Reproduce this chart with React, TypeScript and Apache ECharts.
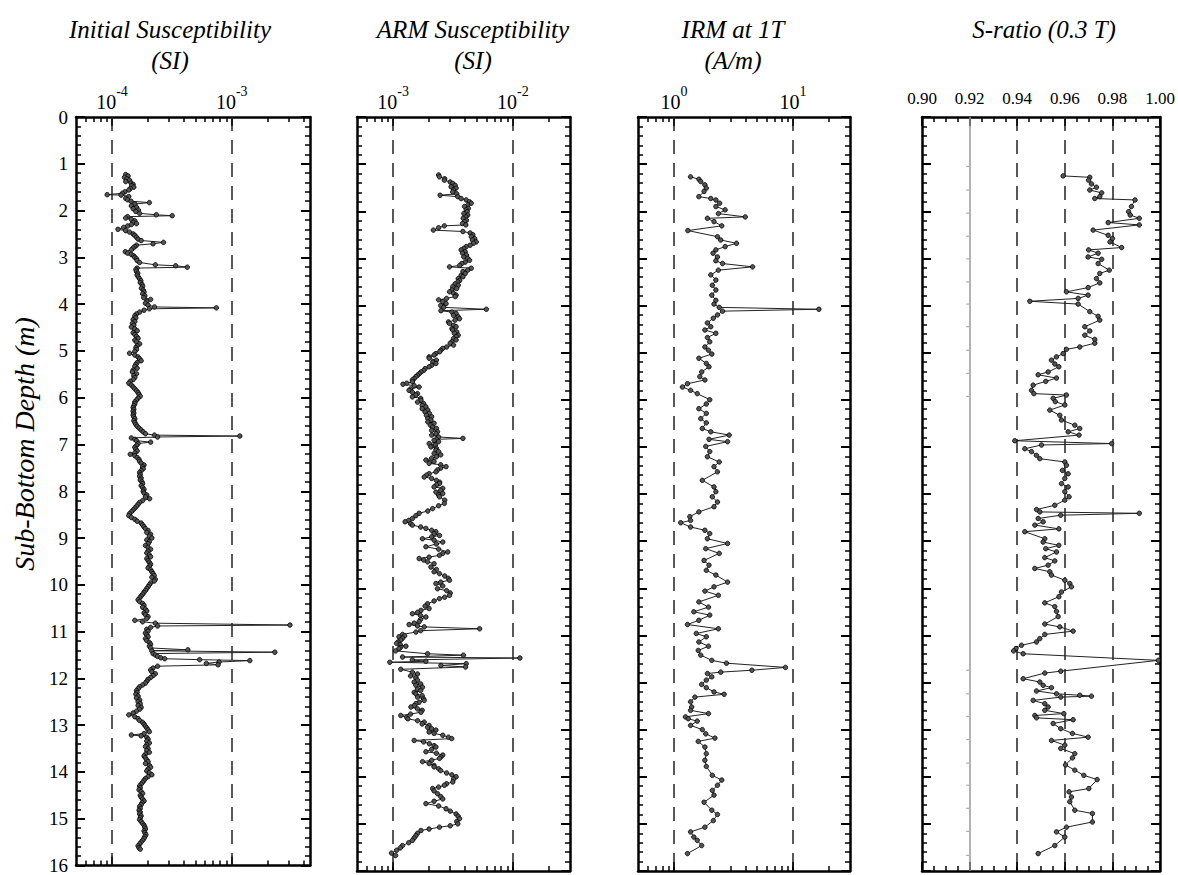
import React, { useEffect, useRef } from "react";
import * as echarts from "echarts";

// ---------- DATA (depth in m, value) ----------
// Initial susceptibility, values in units of 1e-4 SI
const INITIAL_UNIT = 1e-4;
const initialSusceptibility: number[][] = [
  [1.23,1.30],[1.26,1.36],[1.29,1.27],[1.32,1.33],[1.35,1.40],[1.38,1.30],[1.41,1.44],[1.44,1.50],[1.47,1.46],[1.50,1.52],
  [1.53,1.42],[1.56,1.38],[1.60,1.28],[1.63,1.22],[1.66,0.91],[1.67,1.19],[1.70,1.38],[1.74,1.30],[1.77,1.35],[1.80,1.44],
  [1.83,2.05],[1.86,1.55],[1.90,1.45],[1.93,1.60],[1.96,1.50],[1.99,1.66],[2.02,1.58],[2.06,1.70],[2.09,2.34],[2.11,3.18],
  [2.13,1.35],[2.16,1.30],[2.19,1.45],[2.22,1.55],[2.25,1.50],[2.28,1.60],[2.30,1.45],[2.33,1.35],[2.36,1.25],[2.40,1.12],
  [2.43,1.30],[2.46,1.40],[2.50,1.50],[2.53,1.55],[2.57,1.60],[2.61,1.65],[2.64,1.75],[2.68,2.69],[2.71,2.20],[2.74,1.60],
  [2.77,1.55],[2.80,1.50],[2.84,1.45],[2.88,1.29],[2.91,1.35],[2.94,1.45],[2.97,1.52],[3.00,1.55],[3.03,1.60],[3.07,1.62],
  [3.11,1.70],[3.16,2.30],[3.18,3.40],[3.21,4.25],[3.23,1.62],[3.26,1.58],[3.30,1.60],[3.34,1.64],[3.38,1.62],[3.42,1.66],
  [3.46,1.70],[3.50,1.74],[3.54,1.72],[3.58,1.78],[3.62,1.80],[3.66,1.76],[3.70,1.82],[3.74,1.85],[3.78,1.80],[3.82,1.88],
  [3.86,1.84],[3.90,2.10],[3.94,1.95],[3.98,1.90],[4.02,2.00],[4.06,2.26],[4.08,7.44],[4.10,2.05],[4.13,1.85],[4.17,1.70],
  [4.21,1.60],[4.25,1.55],[4.29,1.58],[4.33,1.50],[4.37,1.55],[4.41,1.48],[4.45,1.52],[4.49,1.45],[4.53,1.55],[4.57,1.62],
  [4.61,1.50],[4.65,1.55],[4.69,1.60],[4.73,1.65],[4.77,1.55],[4.81,1.60],[4.85,1.70],[4.89,1.62],[4.93,1.58],[4.97,1.60],
  [5.01,1.55],[5.05,1.40],[5.09,1.55],[5.13,1.65],[5.17,1.70],[5.21,1.75],[5.25,1.62],[5.29,1.58],[5.33,1.55],[5.37,1.62],
  [5.41,1.50],[5.45,1.48],[5.49,1.60],[5.53,1.52],[5.57,1.55],[5.61,1.50],[5.65,1.42],[5.69,1.38],[5.73,1.45],[5.77,1.50],
  [5.81,1.55],[5.85,1.60],[5.89,1.65],[5.93,1.68],[5.97,1.72],[6.01,1.65],[6.05,1.60],[6.09,1.55],[6.13,1.55],[6.17,1.52],
  [6.21,1.50],[6.25,1.52],[6.29,1.50],[6.33,1.52],[6.37,1.50],[6.41,1.52],[6.45,1.55],[6.49,1.52],[6.53,1.55],[6.57,1.58],
  [6.61,1.62],[6.65,1.68],[6.69,1.75],[6.73,1.82],[6.77,1.90],[6.80,2.26],[6.82,11.67],[6.84,2.40],[6.86,1.45],[6.89,1.55],
  [6.92,1.60],[6.95,2.10],[6.98,1.65],[7.02,1.60],[7.06,1.55],[7.10,1.58],[7.14,1.62],[7.18,1.55],[7.21,1.42],[7.24,1.55],
  [7.28,1.62],[7.32,1.68],[7.36,1.70],[7.40,1.75],[7.44,1.85],[7.48,1.80],[7.52,1.82],[7.56,1.75],[7.60,1.70],[7.64,1.72],
  [7.68,1.70],[7.72,1.75],[7.76,1.72],[7.80,1.78],[7.84,1.80],[7.88,1.75],[7.92,1.80],[7.96,1.85],[8.00,1.82],[8.04,1.85],
  [8.08,1.95],[8.12,1.90],[8.16,2.06],[8.20,1.80],[8.24,1.70],[8.28,1.65],[8.32,1.60],[8.36,1.55],[8.40,1.50],[8.44,1.45],
  [8.48,1.40],[8.52,1.38],[8.56,1.45],[8.60,1.55],[8.64,1.62],[8.68,1.75],[8.72,1.80],[8.76,1.85],[8.80,1.90],[8.84,2.00],
  [8.88,1.95],[8.92,2.10],[8.96,2.05],[9.00,2.15],[9.04,1.95],[9.08,2.05],[9.12,2.00],[9.16,1.90],[9.20,2.00],[9.24,2.10],
  [9.28,2.00],[9.32,1.95],[9.36,2.05],[9.40,2.10],[9.44,1.95],[9.48,2.00],[9.52,2.05],[9.56,2.10],[9.60,2.05],[9.64,2.00],
  [9.68,2.10],[9.72,2.15],[9.76,2.20],[9.80,2.25],[9.84,2.15],[9.88,2.30],[9.92,2.25],[9.96,2.10],[10.00,2.05],[10.04,2.00],
  [10.08,1.95],[10.12,1.90],[10.16,1.85],[10.20,1.80],[10.24,1.75],[10.28,1.70],[10.32,1.65],[10.36,1.70],[10.40,1.80],[10.44,1.85],
  [10.48,1.80],[10.52,1.90],[10.56,1.95],[10.60,1.85],[10.64,1.90],[10.68,2.00],[10.72,1.95],[10.76,1.55],[10.79,1.80],[10.82,2.30],
  [10.86,30.6],[10.88,2.40],[10.91,2.10],[10.95,1.95],[10.99,2.00],[11.03,1.90],[11.07,1.95],[11.11,2.00],[11.15,1.90],[11.19,1.95],
  [11.23,2.05],[11.27,2.10],[11.31,2.05],[11.35,2.10],[11.39,4.30],[11.41,2.15],[11.44,22.9],[11.47,2.20],[11.50,2.30],[11.53,2.40],
  [11.56,2.55],[11.58,2.75],[11.60,5.39],[11.62,14.15],[11.65,7.83],[11.68,6.13],[11.71,7.68],[11.74,2.40],[11.78,2.20],[11.82,2.10],
  [11.86,2.15],[11.90,2.30],[11.94,2.20],[11.98,2.10],[12.02,2.00],[12.06,1.95],[12.10,1.90],[12.14,1.80],[12.18,1.70],[12.22,1.65],
  [12.26,1.60],[12.30,1.62],[12.34,1.58],[12.38,1.65],[12.42,1.60],[12.46,1.70],[12.50,1.65],[12.54,1.72],[12.58,1.65],[12.62,1.75],
  [12.66,1.70],[12.70,1.60],[12.74,1.50],[12.78,1.38],[12.82,1.55],[12.86,1.65],[12.90,1.70],[12.94,1.80],[12.98,1.85],[13.02,1.90],
  [13.06,1.95],[13.10,2.00],[13.14,2.05],[13.18,1.85],[13.21,1.45],[13.23,1.75],[13.26,1.95],[13.30,2.00],[13.34,1.95],[13.38,2.05],
  [13.42,1.95],[13.46,1.90],[13.50,2.00],[13.54,1.95],[13.58,2.05],[13.62,1.90],[13.66,1.85],[13.70,1.90],[13.74,1.95],[13.78,2.00],
  [13.82,1.90],[13.86,2.05],[13.90,2.10],[13.94,2.00],[13.98,1.95],[14.02,2.05],[14.06,2.15],[14.10,2.00],[14.14,1.90],[14.18,1.85],
  [14.22,1.80],[14.26,1.75],[14.30,1.70],[14.34,1.72],[14.38,1.68],[14.42,1.75],[14.46,1.80],[14.50,1.72],[14.54,1.75],[14.58,1.80],
  [14.62,1.85],[14.66,1.78],[14.70,1.75],[14.74,1.70],[14.78,1.72],[14.82,1.68],[14.86,1.72],[14.90,1.70],[14.94,1.75],[14.98,1.72],
  [15.02,1.70],[15.06,1.75],[15.10,1.80],[15.14,1.85],[15.18,1.88],[15.22,1.90],[15.26,1.85],[15.30,1.88],[15.34,1.92],[15.38,1.88],
  [15.42,1.85],[15.46,1.80],[15.50,1.75],[15.54,1.70],[15.58,1.65],[15.62,1.68],[15.65,1.72]
];

// ARM susceptibility, values in units of 1e-3 SI
const ARM_UNIT = 1e-3;
const armSusceptibility: number[][] = [
  [1.23,2.40],[1.27,2.44],[1.31,2.70],[1.34,2.68],[1.38,3.00],[1.41,3.15],[1.45,3.30],[1.48,3.05],[1.51,3.36],[1.55,3.20],
  [1.59,3.15],[1.63,3.40],[1.66,2.47],[1.69,3.47],[1.73,3.70],[1.76,4.08],[1.80,4.35],[1.83,4.49],[1.87,4.20],[1.90,3.95],
  [1.94,4.25],[1.97,4.08],[2.01,4.15],[2.05,3.90],[2.08,4.20],[2.12,4.05],[2.15,3.85],[2.19,4.10],[2.22,3.95],[2.26,3.80],
  [2.29,4.05],[2.31,2.68],[2.35,2.40],[2.40,2.17],[2.43,3.83],[2.46,4.40],[2.50,4.64],[2.54,4.50],[2.58,4.80],[2.61,4.60],
  [2.65,4.95],[2.68,4.70],[2.72,4.40],[2.75,4.08],[2.79,3.90],[2.82,3.70],[2.86,4.00],[2.89,3.80],[2.93,4.10],[2.97,3.90],
  [3.00,4.20],[3.04,4.35],[3.08,4.00],[3.11,3.75],[3.15,3.60],[3.18,2.96],[3.21,4.49],[3.25,4.20],[3.28,3.83],[3.32,4.00],
  [3.36,3.70],[3.39,3.83],[3.43,3.50],[3.47,3.60],[3.50,3.47],[3.54,3.30],[3.57,3.50],[3.60,3.15],[3.64,3.40],[3.67,3.10],
  [3.71,2.96],[3.74,3.20],[3.78,3.36],[3.81,3.30],[3.85,2.80],[3.88,2.40],[3.92,2.60],[3.96,2.77],[4.00,2.50],[4.04,2.65],
  [4.08,6.01],[4.11,2.51],[4.14,3.10],[4.17,3.36],[4.21,3.20],[4.24,3.50],[4.28,3.59],[4.31,3.30],[4.35,2.90],[4.38,2.96],
  [4.42,3.20],[4.45,3.36],[4.49,3.10],[4.52,3.15],[4.56,3.40],[4.59,3.25],[4.63,3.50],[4.66,3.36],[4.70,3.20],[4.73,3.36],
  [4.77,3.10],[4.80,3.00],[4.84,3.20],[4.88,2.80],[4.91,2.60],[4.95,2.50],[4.98,2.45],[5.02,2.28],[5.05,2.20],[5.09,2.00],
  [5.12,2.00],[5.16,2.30],[5.20,2.15],[5.23,2.28],[5.27,2.10],[5.30,2.00],[5.34,1.85],[5.38,1.80],[5.41,1.71],[5.45,1.65],
  [5.48,1.60],[5.51,1.55],[5.55,1.50],[5.58,1.45],[5.62,1.45],[5.65,1.30],[5.67,1.21],[5.70,1.50],[5.73,1.65],[5.77,1.40],
  [5.80,1.36],[5.84,1.45],[5.87,1.60],[5.90,1.55],[5.94,1.45],[5.97,1.70],[6.01,1.71],[6.05,1.60],[6.08,1.80],[6.12,1.75],
  [6.15,1.88],[6.19,1.75],[6.22,1.95],[6.26,1.85],[6.29,2.01],[6.33,1.90],[6.36,2.10],[6.40,1.95],[6.43,2.07],[6.47,1.95],
  [6.50,2.20],[6.54,2.05],[6.58,2.14],[6.61,2.30],[6.65,2.10],[6.68,2.35],[6.72,2.28],[6.75,2.10],[6.79,2.40],[6.82,3.83],
  [6.84,2.30],[6.86,2.20],[6.89,2.40],[6.93,2.00],[6.96,2.25],[7.00,2.07],[7.03,2.30],[7.07,2.28],[7.10,2.40],[7.14,2.20],
  [7.17,2.50],[7.21,2.30],[7.24,2.10],[7.28,1.88],[7.31,2.20],[7.35,2.00],[7.38,2.50],[7.42,2.77],[7.45,2.50],[7.49,2.35],
  [7.53,2.28],[7.57,2.00],[7.60,1.90],[7.64,1.82],[7.67,2.10],[7.71,2.30],[7.75,2.45],[7.78,2.44],[7.81,2.30],[7.85,2.20],
  [7.88,2.60],[7.92,2.50],[7.96,2.28],[7.99,2.60],[8.02,2.40],[8.06,2.44],[8.13,2.70],[8.20,2.68],[8.25,2.40],[8.31,2.14],
  [8.36,1.95],[8.41,1.65],[8.46,1.55],[8.52,1.45],[8.56,1.35],[8.59,1.26],[8.63,1.40],[8.66,1.45],[8.70,1.70],[8.73,1.88],
  [8.77,2.10],[8.80,2.28],[8.84,2.20],[8.88,2.44],[8.91,2.10],[8.95,1.76],[8.98,2.20],[9.02,2.60],[9.06,2.30],[9.12,1.88],
  [9.17,2.40],[9.23,2.86],[9.26,2.60],[9.30,2.44],[9.34,2.00],[9.37,1.65],[9.40,1.80],[9.44,1.94],[9.48,2.20],[9.55,2.07],
  [9.60,2.30],[9.65,2.20],[9.69,2.44],[9.74,2.70],[9.79,2.90],[9.83,2.96],[9.87,2.50],[9.90,2.28],[9.95,2.60],[10.01,2.35],
  [10.05,2.80],[10.10,3.00],[10.15,2.96],[10.19,2.70],[10.22,2.44],[10.27,2.20],[10.33,1.94],[10.38,1.85],[10.43,2.00],[10.47,1.71],
  [10.51,1.60],[10.54,1.45],[10.58,1.70],[10.61,1.88],[10.66,1.70],[10.71,1.65],[10.74,1.50],[10.77,1.36],[10.80,1.60],[10.82,1.82],
  [10.86,5.28],[10.90,1.70],[10.93,1.55],[10.98,1.20],[11.01,1.25],[11.03,1.12],[11.06,1.20],[11.10,1.16],[11.14,1.10],[11.17,1.07],
  [11.20,1.15],[11.23,1.28],[11.26,1.15],[11.28,1.12],[11.33,1.05],[11.39,1.94],[11.42,3.87],[11.46,1.20],[11.48,11.45],[11.52,1.45],
  [11.55,1.88],[11.57,0.94],[11.60,4.08],[11.64,2.51],[11.67,4.03],[11.72,1.16],[11.78,1.45],[11.82,1.60],[11.86,1.40],[11.90,1.55],
  [11.95,1.60],[11.99,1.50],[12.03,1.70],[12.06,1.55],[12.10,1.76],[12.14,1.60],[12.17,1.70],[12.21,1.50],[12.24,1.55],[12.28,1.75],
  [12.31,1.60],[12.35,1.80],[12.38,1.82],[12.42,1.65],[12.45,1.55],[12.49,1.50],[12.52,1.41],[12.56,1.60],[12.59,1.75],[12.63,1.71],
  [12.67,1.40],[12.70,1.16],[12.74,1.30],[12.77,1.33],[12.81,1.60],[12.84,1.82],[12.88,1.75],[12.91,2.00],[12.95,1.94],[12.98,2.10],
  [13.01,2.28],[13.05,2.00],[13.08,2.20],[13.12,2.60],[13.16,2.90],[13.19,3.09],[13.23,1.50],[13.26,1.80],[13.30,2.01],[13.34,2.20],
  [13.37,2.28],[13.42,2.10],[13.47,1.88],[13.50,2.30],[13.54,2.60],[13.58,2.50],[13.61,2.44],[13.65,2.10],[13.68,1.76],[13.72,2.00],
  [13.76,2.20],[13.79,2.20],[13.83,2.40],[13.87,2.50],[13.92,2.80],[13.96,3.10],[14.00,3.36],[14.05,3.20],[14.11,3.15],[14.15,2.80],
  [14.18,2.68],[14.22,2.40],[14.25,2.14],[14.30,2.20],[14.36,2.35],[14.42,2.50],[14.47,2.60],[14.52,2.20],[14.57,1.88],[14.62,2.40],
  [14.68,2.77],[14.73,3.00],[14.79,3.36],[14.84,3.50],[14.89,3.59],[14.95,3.40],[15.00,3.47],[15.04,3.00],[15.07,2.44],[15.11,2.00],
  [15.14,1.71],[15.20,1.60],[15.25,1.55],[15.30,1.50],[15.35,1.45],[15.40,1.35],[15.46,1.20],[15.51,1.15],[15.56,1.07],[15.62,0.97],
  [15.67,1.05]
];

// IRM at 1 T, A/m
const irm1T: number[][] = [
  [1.27,1.38],[1.32,1.62],[1.37,1.68],[1.44,1.82],[1.51,1.87],[1.58,1.79],[1.69,1.62],[1.73,2.04],[1.76,2.25],[1.83,2.42],
  [1.90,2.25],[1.97,2.69],[2.05,2.36],[2.12,3.97],[2.15,1.91],[2.22,2.17],[2.31,2.52],[2.41,1.31],[2.54,2.32],[2.61,2.47],
  [2.68,3.35],[2.75,2.69],[2.82,2.25],[2.89,2.13],[2.97,2.32],[3.05,2.25],[3.11,2.56],[3.18,4.57],[3.25,2.36],[3.35,2.04],
  [3.46,2.25],[3.57,2.10],[3.67,2.25],[3.78,2.08],[3.89,2.25],[3.97,2.17],[4.04,2.40],[4.08,16.46],[4.12,2.56],[4.20,2.32],
  [4.27,2.14],[4.37,1.91],[4.45,2.04],[4.52,1.82],[4.59,2.25],[4.68,1.91],[4.77,2.00],[4.88,1.82],[4.95,1.95],[5.03,2.08],
  [5.12,1.62],[5.23,1.87],[5.30,1.97],[5.41,1.71],[5.51,1.65],[5.58,1.82],[5.66,1.30],[5.73,1.18],[5.80,1.38],[5.87,1.57],
  [6.00,2.00],[6.09,1.87],[6.19,1.62],[6.29,1.87],[6.40,1.68],[6.49,1.87],[6.61,1.73],[6.68,2.04],[6.75,2.91],[6.84,1.97],
  [6.89,2.82],[6.99,1.85],[7.10,2.00],[7.21,1.91],[7.32,2.40],[7.42,2.17],[7.53,2.32],[7.71,1.73],[7.85,2.17],[7.95,2.25],
  [8.06,2.10],[8.17,2.32],[8.27,2.17],[8.38,1.62],[8.48,1.36],[8.56,1.38],[8.61,1.14],[8.70,1.38],[8.77,1.82],[8.84,2.00],
  [8.95,1.91],[9.05,2.82],[9.16,1.85],[9.26,2.40],[9.41,1.79],[9.51,1.97],[9.62,1.87],[9.72,2.25],[9.87,2.82],[9.97,2.17],
  [10.06,1.82],[10.15,2.36],[10.29,1.62],[10.40,1.95],[10.50,1.47],[10.57,2.00],[10.68,1.62],[10.77,1.30],[10.86,2.36],[10.96,1.54],
  [11.03,1.87],[11.14,1.62],[11.23,1.95],[11.32,1.60],[11.42,1.68],[11.53,2.08],[11.59,2.76],[11.68,8.62],[11.74,4.51],[11.78,2.47],
  [11.81,1.91],[11.88,2.08],[11.95,1.87],[12.04,1.71],[12.11,1.87],[12.20,2.17],[12.25,2.64],[12.31,1.50],[12.41,1.38],[12.52,1.41],
  [12.59,1.38],[12.66,1.95],[12.73,1.25],[12.77,1.32],[12.82,1.57],[12.91,1.38],[13.00,1.73],[13.09,1.85],[13.18,2.21],[13.25,1.60],
  [13.37,1.82],[13.51,1.87],[13.65,1.82],[13.78,1.87],[13.97,2.10],[14.07,2.52],[14.18,2.32],[14.29,2.10],[14.39,2.17],[14.54,1.79],
  [14.71,2.08],[14.80,2.32],[14.93,2.14],[15.07,1.82],[15.17,1.38],[15.28,1.47],[15.35,1.57],[15.46,1.71],[15.63,1.30]
];

// S-ratio (0.3 T)
const sRatio: number[][] = [
  [1.25,0.9593],[1.28,0.9705],[1.34,0.9700],[1.42,0.9712],[1.49,0.9733],[1.55,0.9705],[1.61,0.9755],[1.69,0.9747],[1.73,0.9726],[1.76,0.9895],
  [1.90,0.9880],[2.01,0.9868],[2.08,0.9875],[2.15,0.9913],[2.24,0.9782],[2.29,0.9913],[2.40,0.9719],[2.51,0.9782],[2.58,0.9800],[2.65,0.9790],
  [2.77,0.9839],[2.82,0.9700],[2.89,0.9740],[2.97,0.9698],[3.02,0.9755],[3.11,0.9740],[3.25,0.9787],[3.32,0.9747],[3.43,0.9733],[3.52,0.9747],
  [3.62,0.9698],[3.71,0.9607],[3.78,0.9698],[3.85,0.9656],[3.91,0.9453],[3.97,0.9656],[4.13,0.9705],[4.23,0.9740],[4.31,0.9747],[4.45,0.9684],
  [4.54,0.9705],[4.63,0.9684],[4.72,0.9726],[4.80,0.9726],[4.88,0.9663],[4.93,0.9607],[5.02,0.9593],[5.09,0.9565],[5.16,0.9544],[5.24,0.9558],
  [5.30,0.9575],[5.41,0.9530],[5.47,0.9488],[5.54,0.9565],[5.61,0.9520],[5.69,0.9467],[5.80,0.9460],[5.87,0.9470],[5.90,0.9607],[5.97,0.9551],
  [6.04,0.9560],[6.11,0.9600],[6.22,0.9537],[6.33,0.9579],[6.43,0.9586],[6.54,0.9642],[6.61,0.9663],[6.68,0.9614],[6.75,0.9660],[6.87,0.9390],
  [6.93,0.9797],[6.96,0.9502],[7.04,0.9432],[7.10,0.9460],[7.18,0.9481],[7.25,0.9495],[7.32,0.9600],[7.39,0.9607],[7.50,0.9590],[7.57,0.9614],
  [7.67,0.9600],[7.78,0.9586],[7.85,0.9614],[7.95,0.9600],[8.06,0.9618],[8.13,0.9600],[8.24,0.9558],[8.33,0.9481],[8.38,0.9495],[8.41,0.9913],
  [8.45,0.9583],[8.52,0.9488],[8.59,0.9509],[8.66,0.9474],[8.74,0.9575],[8.80,0.9432],[8.95,0.9516],[9.02,0.9509],[9.09,0.9575],[9.16,0.9520],
  [9.23,0.9565],[9.35,0.9516],[9.42,0.9558],[9.51,0.9530],[9.58,0.9474],[9.65,0.9537],[9.72,0.9544],[9.83,0.9600],[9.90,0.9621],[9.97,0.9628],
  [10.08,0.9586],[10.18,0.9575],[10.31,0.9516],[10.39,0.9558],[10.49,0.9565],[10.60,0.9572],[10.76,0.9516],[10.82,0.9579],[10.91,0.9635],[10.98,0.9516],
  [11.07,0.9495],[11.14,0.9481],[11.21,0.9418],[11.28,0.9395],[11.33,0.9385],[11.39,0.9425],[11.53,0.9993],[11.76,0.9583],[11.80,0.9516],[11.92,0.9425],
  [11.99,0.9495],[12.06,0.9509],[12.11,0.9544],[12.18,0.9481],[12.24,0.9565],[12.27,0.9663],[12.29,0.9712],[12.31,0.9583],[12.38,0.9467],[12.45,0.9516],
  [12.52,0.9530],[12.59,0.9516],[12.66,0.9596],[12.70,0.9474],[12.75,0.9481],[12.79,0.9635],[12.87,0.9551],[12.98,0.9583],[13.08,0.9632],[13.16,0.9698],
  [13.23,0.9544],[13.33,0.9600],[13.40,0.9583],[13.51,0.9642],[13.60,0.9632],[13.75,0.9603],[13.86,0.9642],[13.97,0.9680],[14.06,0.9736],[14.25,0.9701],
  [14.32,0.9618],[14.43,0.9628],[14.53,0.9621],[14.71,0.9642],[14.78,0.9716],[14.96,0.9716],[15.07,0.9607],[15.17,0.9565],[15.28,0.9600],[15.46,0.9558],
  [15.63,0.9488]
];

// depths of the short marks on the grey 0.92 line
const referenceMarkDepths = [1.05, 1.55, 2.04, 2.53, 3.01, 3.5, 3.97, 4.45, 4.95, 5.44, 5.93,
  11.74, 12.24, 12.72, 13.21, 13.71, 14.18, 14.67, 15.16, 15.67];

const depthTicks = { min: 0, max: 16, interval: 1 };
const sRatioTicks = { min: 0.9, max: 1.0, interval: 0.02 };
const depthAxisTitle = "Sub-Bottom Depth (m)";

// ---------- LAYOUT ----------
const FONT = "Liberation Serif";
const GRID_TOP = 117;
const GRID_BOTTOM = 4;

type Panel = {
  left: number;
  width: number;
  kind: "log" | "linear";
  min: number;
  max: number;
  data: number[][]; // [value, depth]
  title: string;
  titleX: number;
  dashed: number[];
  solid?: number[];
};

const panels: Panel[] = [
  {
    left: 76, width: 234, kind: "log", min: 5e-5, max: 4.5e-3,
    data: initialSusceptibility.map(([d, v]) => [v * INITIAL_UNIT, d]),
    title: "Initial Susceptibility\n(SI)", titleX: 170, dashed: [1e-4, 1e-3],
  },
  {
    left: 357, width: 213, kind: "log", min: 5e-4, max: 3e-2,
    data: armSusceptibility.map(([d, v]) => [v * ARM_UNIT, d]),
    title: "ARM Susceptibility\n(SI)", titleX: 473, dashed: [1e-3, 1e-2],
  },
  {
    left: 638, width: 212, kind: "log", min: 0.5, max: 30,
    data: irm1T.map(([d, v]) => [v, d]),
    title: "IRM at 1T\n(A/m)", titleX: 733, dashed: [1, 10],
  },
  {
    left: 922, width: 238, kind: "linear", min: sRatioTicks.min, max: sRatioTicks.max,
    data: sRatio.map(([d, v]) => [v, d]),
    title: "S-ratio (0.3 T)", titleX: 1044, dashed: [0.94, 0.96, 0.98], solid: [0.92],
  },
];

const AXIS_COLOR = "#000";
const MAJOR_LEN = 9;
const MINOR_LEN = 5;

function logTicks(min: number, max: number) {
  const lmin = Math.log10(min);
  const lmax = Math.log10(max);
  const majors: number[] = [];
  const minors: number[] = [];
  for (let e = Math.floor(lmin); e <= Math.ceil(lmax); e++) {
    if (e >= lmin - 1e-9 && e <= lmax + 1e-9) majors.push(e);
    for (let k = 2; k <= 9; k++) {
      const v = e + Math.log10(k);
      if (v > lmin + 1e-6 && v < lmax - 1e-6) minors.push(v);
    }
  }
  return { lmin, lmax, majors, minors };
}

function buildOption() {
  const grid: any[] = [];
  const xAxis: any[] = [];
  const yAxis: any[] = [];
  const series: any[] = [];
  const graphic: any[] = [];

  panels.forEach((p, i) => {
    grid.push({ left: p.left, width: p.width, top: GRID_TOP, bottom: GRID_BOTTOM, containLabel: false });

    const yBase = {
      type: "value",
      gridIndex: i,
      inverse: true,
      min: depthTicks.min,
      max: depthTicks.max,
      interval: depthTicks.interval,
      axisLine: { show: true, onZero: false, lineStyle: { color: AXIS_COLOR, width: 2.5 } },
      axisTick: { show: true, inside: true, length: MAJOR_LEN, lineStyle: { color: AXIS_COLOR, width: 2 } },
      minorTick: { show: true, splitNumber: 5, length: MINOR_LEN, lineStyle: { color: AXIS_COLOR, width: 1.5 } },
      splitLine: { show: false },
      minorSplitLine: { show: false },
    };
    const yLeftIndex = yAxis.length;
    yAxis.push({
      ...yBase,
      position: "left",
      axisLabel: { show: i === 0, fontFamily: FONT, fontSize: 19, color: "#000", margin: 8 },
    });
    yAxis.push({ ...yBase, position: "right", axisLabel: { show: false } });

    const dataAxisIndex = xAxis.length;
    xAxis.push({
      type: p.kind === "log" ? "log" : "value",
      gridIndex: i,
      min: p.min,
      max: p.max,
      show: false,
      splitLine: { show: false },
    });

    if (p.kind === "log") {
      const t = logTicks(p.min, p.max);
      const mk = (position: string, major: boolean, labels: boolean) => ({
        type: "value",
        gridIndex: i,
        position,
        min: t.lmin,
        max: t.lmax,
        axisLine: { show: major, onZero: false, lineStyle: { color: AXIS_COLOR, width: 2.5 } },
        axisTick: {
          show: true,
          inside: true,
          customValues: major ? t.majors : t.minors,
          length: major ? MAJOR_LEN : MINOR_LEN,
          lineStyle: { color: AXIS_COLOR, width: major ? 2 : 1.5 },
        },
        axisLabel: labels
          ? {
              show: true,
              customValues: t.majors,
              margin: 5,
              formatter: (v: number) => `{b|10}{s|${Math.round(v)}}`,
              rich: {
                b: { fontFamily: FONT, fontSize: 20, color: "#000", lineHeight: 28, verticalAlign: "bottom" },
                s: { fontFamily: FONT, fontSize: 14, color: "#000", lineHeight: 28, verticalAlign: "top" },
              },
            }
          : { show: false },
        splitLine: { show: false },
      });
      xAxis.push(mk("top", true, true));
      xAxis.push(mk("top", false, false));
      xAxis.push(mk("bottom", true, false));
      xAxis.push(mk("bottom", false, false));
    } else {
      const mk = (position: string, labels: boolean) => ({
        type: "value",
        gridIndex: i,
        position,
        min: sRatioTicks.min,
        max: sRatioTicks.max,
        interval: sRatioTicks.interval,
        axisLine: { show: true, onZero: false, lineStyle: { color: AXIS_COLOR, width: 2.5 } },
        axisTick: { show: true, inside: true, length: MAJOR_LEN, lineStyle: { color: AXIS_COLOR, width: 2 } },
        minorTick: { show: true, splitNumber: 4, length: MINOR_LEN, lineStyle: { color: AXIS_COLOR, width: 1.5 } },
        axisLabel: labels
          ? {
              show: true,
              margin: 10,
              fontFamily: FONT,
              fontSize: 17,
              color: "#000",
              formatter: (v: number) => v.toFixed(2),
            }
          : { show: false },
        splitLine: { show: false },
        minorSplitLine: { show: false },
      });
      xAxis.push(mk("top", true));
      xAxis.push(mk("bottom", false));
    }

    const markData: any[] = p.dashed.map((v) => ({
      xAxis: v,
      lineStyle: { type: [14, 9], color: "#222", width: 1.5 },
    }));
    (p.solid || []).forEach((v) =>
      markData.push({ xAxis: v, lineStyle: { type: "solid", color: "#999", width: 1.5 } })
    );

    series.push({
      type: "line",
      xAxisIndex: dataAxisIndex,
      yAxisIndex: yLeftIndex,
      data: p.data,
      symbol: "circle",
      symbolSize: 4.5,
      showSymbol: true,
      showAllSymbol: true,
      lineStyle: { color: "#222", width: 1 },
      itemStyle: { color: "#555", borderColor: "#000", borderWidth: 0.8 },
      clip: false,
      z: 3,
      markLine: {
        silent: true,
        precision: 12,
        symbol: ["none", "none"],
        label: { show: false },
        animation: false,
        data: markData,
        z: 1,
      },
    });

    if (p.solid && p.solid.length) {
      series.push({
        type: "scatter",
        xAxisIndex: dataAxisIndex,
        yAxisIndex: yLeftIndex,
        data: referenceMarkDepths.map((d) => [p.solid![0], d]),
        symbol: "rect",
        symbolSize: [3, 1.2],
        symbolOffset: [-2, 0],
        itemStyle: { color: "#999" },
        silent: true,
        z: 2,
      });
    }

    graphic.push({
      type: "text",
      x: p.titleX,
      y: 14,
      style: {
        text: p.title,
        fontFamily: FONT,
        fontSize: 25,
        fontStyle: "italic",
        fill: "#000",
        textAlign: "center",
        textVerticalAlign: "top",
        lineHeight: 31,
      },
    });
  });

  graphic.push({
    type: "text",
    x: 24,
    y: 444,
    rotation: Math.PI / 2,
    style: {
      text: depthAxisTitle,
      fontFamily: FONT,
      fontSize: 28,
      fontStyle: "italic",
      fill: "#000",
      textAlign: "center",
      textVerticalAlign: "middle",
    },
  });

  return {
    animation: false,
    backgroundColor: "#fff",
    grid,
    xAxis,
    yAxis,
    series,
    graphic,
  };
}

export default function App() {
  const ref = useRef<HTMLDivElement>(null);
  useEffect(() => {
    document.body.style.margin = "0";
    if (!ref.current) return;
    const chart = echarts.init(ref.current, undefined, { renderer: "svg" });
    chart.setOption(buildOption() as any);
    return () => chart.dispose();
  }, []);
  return <div ref={ref} style={{ width: 1178, height: 875 }} />;
}
